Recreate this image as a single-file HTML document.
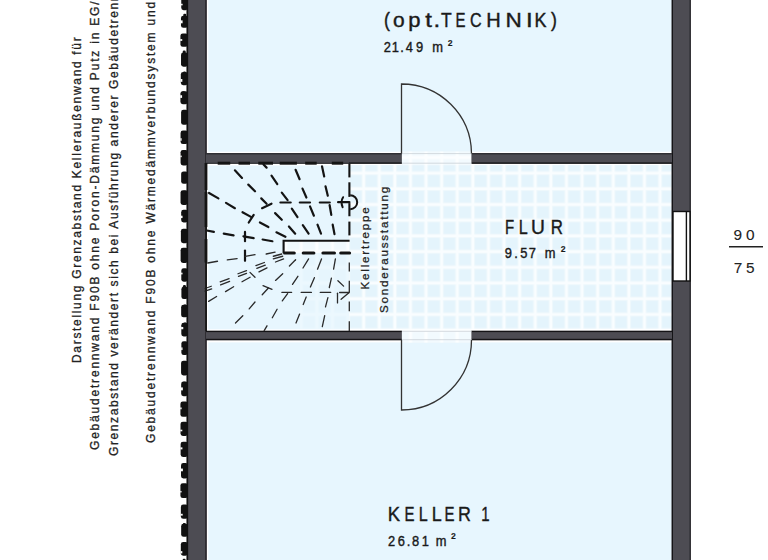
<!DOCTYPE html>
<html><head><meta charset="utf-8">
<style>
html,body{margin:0;padding:0;background:#fff;}
body{width:768px;height:560px;overflow:hidden;position:relative;}
svg{position:absolute;left:0;top:0;}
text{font-family:"Liberation Sans",sans-serif;}
</style></head>
<body>
<svg width="768" height="560" viewBox="0 0 768 560">
<defs>
<pattern id="tile" patternUnits="userSpaceOnUse" x="395" y="173.3" width="15.6" height="15.7">
<rect x="0" y="0" width="15.6" height="15.7" fill="#f9fdff"/>
<rect x="1.2" y="1.2" width="12.9" height="12.9" fill="#ebf7fc"/>
<rect x="2.2" y="2.2" width="10.9" height="10.9" fill="#e4f4fc"/>
</pattern>
</defs>
<rect x="208.3" y="0" width="463.5" height="151.7" fill="#e7f6fe"/>
<rect x="208.3" y="342.4" width="463.5" height="217.6" fill="#e7f6fe"/>
<rect x="208.3" y="165.5" width="141" height="163.8" fill="#e7f6fe"/>
<rect x="349" y="165.1" width="322.7" height="163.9" fill="url(#tile)"/>
<rect x="300" y="253" width="49" height="78" fill="url(#tile)" opacity="0.3"/>
<rect x="284" y="241" width="65" height="12" fill="url(#tile)"/><rect x="284" y="241" width="65" height="12" fill="#fff" opacity="0.45"/>
<rect x="187.8" y="0" width="18.9" height="560" fill="#4d4c53"/><rect x="205" y="0" width="1.7" height="560" fill="#2e2c31"/>
<rect x="671.7" y="0" width="19" height="560" fill="#4d4c53"/><rect x="671.7" y="0" width="1.3" height="560" fill="#151417"/><rect x="689.7" y="0" width="1" height="560" fill="#151417"/>
<rect x="206" y="153" width="466" height="10.75" fill="#4d4c53"/><rect x="206" y="153" width="466" height="1.5" fill="#303035"/><rect x="349" y="162.4" width="323" height="1.35" fill="#151417"/>
<rect x="206" y="330.8" width="466" height="9.4" fill="#4d4c53"/><rect x="206" y="330.8" width="466" height="1.3" fill="#151417"/><rect x="206" y="338.8" width="466" height="1.4" fill="#151417"/>
<rect x="401.9" y="151.7" width="69.4" height="13.4" fill="url(#tile)"/><rect x="401.9" y="151.7" width="69.4" height="13.4" fill="#ffffff" opacity="0.5"/><line x1="402" y1="153.6" x2="471.5" y2="153.6" stroke="#c9d0d6" stroke-width="0.8"/><line x1="402" y1="163.2" x2="471.5" y2="163.2" stroke="#c9d0d6" stroke-width="0.8"/>
<rect x="401.9" y="329" width="69.4" height="13.4" fill="url(#tile)"/><rect x="401.9" y="329" width="69.4" height="13.4" fill="#ffffff" opacity="0.5"/><line x1="402" y1="331.3" x2="471.5" y2="331.3" stroke="#c9d0d6" stroke-width="0.8"/><line x1="402" y1="339.7" x2="471.5" y2="339.7" stroke="#c9d0d6" stroke-width="0.8"/>
<rect x="673" y="211.5" width="17" height="69.5" fill="#fff" stroke="#111" stroke-width="1.4"/>
<line x1="686.4" y1="211.5" x2="686.4" y2="281" stroke="#111" stroke-width="1.4"/>
<path d="M401.5 153.5 V84 A70 70 0 0 1 471.5 153.5" fill="none" stroke="#333" stroke-width="1.3"/>
<path d="M401.5 340 V410 A70 70 0 0 0 471.5 340" fill="none" stroke="#333" stroke-width="1.3"/>
<line x1="187.3" y1="0" x2="187.3" y2="560" stroke="#111" stroke-width="1.7"/>
<rect x="181.25" y="-3.00" width="6.75" height="13.13" rx="2.4" fill="#111"/>
<rect x="181.05" y="3.76" width="1.57" height="1.59" fill="#fff"/>
<rect x="180.97" y="15.65" width="7.03" height="12.13" rx="2.4" fill="#111"/>
<rect x="183.29" y="13.70" width="3" height="4.88" rx="1.2" fill="#111"/>
<rect x="180.77" y="20.37" width="1.83" height="2.92" fill="#fff"/>
<rect x="180.42" y="33.43" width="7.58" height="13.39" rx="2.4" fill="#111"/>
<rect x="182.07" y="36.68" width="3" height="4.78" rx="1.2" fill="#111"/>
<rect x="180.22" y="39.10" width="2.02" height="1.77" fill="#fff"/>
<rect x="181.03" y="52.49" width="6.97" height="14.24" rx="2.4" fill="#111"/>
<rect x="182.73" y="50.43" width="3" height="4.19" rx="1.2" fill="#111"/>
<rect x="180.81" y="72.08" width="7.19" height="13.10" rx="2.4" fill="#111"/>
<rect x="183.01" y="71.54" width="3" height="6.03" rx="1.2" fill="#111"/>
<rect x="180.61" y="79.02" width="1.73" height="2.81" fill="#fff"/>
<rect x="180.42" y="91.14" width="7.58" height="13.01" rx="2.4" fill="#111"/>
<rect x="182.07" y="91.35" width="3" height="5.90" rx="1.2" fill="#111"/>
<rect x="180.22" y="95.24" width="1.87" height="2.65" fill="#fff"/>
<rect x="181.09" y="109.79" width="6.91" height="15.06" rx="2.4" fill="#111"/>
<rect x="180.56" y="130.51" width="7.44" height="13.60" rx="2.4" fill="#111"/>
<rect x="180.36" y="138.20" width="1.26" height="2.55" fill="#fff"/>
<rect x="180.58" y="149.90" width="7.42" height="15.48" rx="2.4" fill="#111"/>
<rect x="182.10" y="150.39" width="3" height="6.50" rx="1.2" fill="#111"/>
<rect x="180.38" y="155.59" width="1.32" height="1.59" fill="#fff"/>
<rect x="181.15" y="171.42" width="6.85" height="12.45" rx="2.4" fill="#111"/>
<rect x="183.10" y="174.34" width="3" height="4.18" rx="1.2" fill="#111"/>
<rect x="180.54" y="190.14" width="7.46" height="14.87" rx="2.4" fill="#111"/>
<rect x="182.92" y="190.72" width="3" height="5.23" rx="1.2" fill="#111"/>
<rect x="181.17" y="209.80" width="6.83" height="12.62" rx="2.4" fill="#111"/>
<rect x="182.93" y="210.36" width="3" height="5.36" rx="1.2" fill="#111"/>
<rect x="180.97" y="215.70" width="1.57" height="2.35" fill="#fff"/>
<rect x="180.88" y="228.83" width="7.12" height="14.42" rx="2.4" fill="#111"/>
<rect x="180.62" y="247.85" width="7.38" height="15.15" rx="2.4" fill="#111"/>
<rect x="181.30" y="268.29" width="6.70" height="13.40" rx="2.4" fill="#111"/>
<rect x="181.10" y="272.67" width="1.41" height="1.74" fill="#fff"/>
<rect x="181.40" y="286.86" width="6.60" height="12.18" rx="2.4" fill="#111"/>
<rect x="182.93" y="284.98" width="3" height="4.76" rx="1.2" fill="#111"/>
<rect x="181.15" y="304.77" width="6.85" height="12.52" rx="2.4" fill="#111"/>
<rect x="183.50" y="304.55" width="3" height="4.28" rx="1.2" fill="#111"/>
<rect x="181.31" y="322.73" width="6.69" height="13.69" rx="2.4" fill="#111"/>
<rect x="183.64" y="322.57" width="3" height="4.75" rx="1.2" fill="#111"/>
<rect x="181.11" y="326.96" width="2.15" height="2.29" fill="#fff"/>
<rect x="181.37" y="341.21" width="6.63" height="13.90" rx="2.4" fill="#111"/>
<rect x="183.57" y="345.51" width="3" height="6.55" rx="1.2" fill="#111"/>
<rect x="181.17" y="347.42" width="1.37" height="2.66" fill="#fff"/>
<rect x="181.07" y="360.68" width="6.93" height="14.73" rx="2.4" fill="#111"/>
<rect x="183.42" y="364.15" width="3" height="7.31" rx="1.2" fill="#111"/>
<rect x="181.17" y="381.54" width="6.83" height="14.59" rx="2.4" fill="#111"/>
<rect x="182.70" y="381.64" width="3" height="4.10" rx="1.2" fill="#111"/>
<rect x="180.97" y="387.43" width="1.89" height="2.93" fill="#fff"/>
<rect x="180.41" y="401.53" width="7.59" height="15.28" rx="2.4" fill="#111"/>
<rect x="180.21" y="407.46" width="1.43" height="1.80" fill="#fff"/>
<rect x="180.50" y="421.71" width="7.50" height="14.18" rx="2.4" fill="#111"/>
<rect x="180.30" y="429.68" width="2.00" height="1.63" fill="#fff"/>
<rect x="180.62" y="441.72" width="7.38" height="15.18" rx="2.4" fill="#111"/>
<rect x="180.42" y="447.36" width="1.99" height="2.00" fill="#fff"/>
<rect x="181.00" y="463.01" width="7.00" height="15.40" rx="2.4" fill="#111"/>
<rect x="182.67" y="467.80" width="3" height="6.68" rx="1.2" fill="#111"/>
<rect x="180.80" y="468.56" width="2.10" height="2.71" fill="#fff"/>
<rect x="180.42" y="483.20" width="7.58" height="14.89" rx="2.4" fill="#111"/>
<rect x="180.22" y="490.94" width="1.33" height="1.52" fill="#fff"/>
<rect x="180.87" y="504.53" width="7.13" height="14.27" rx="2.4" fill="#111"/>
<rect x="180.67" y="513.79" width="2.03" height="1.82" fill="#fff"/>
<rect x="181.16" y="523.81" width="6.84" height="13.03" rx="2.4" fill="#111"/>
<rect x="182.79" y="523.00" width="3" height="5.05" rx="1.2" fill="#111"/>
<rect x="180.82" y="542.04" width="7.18" height="13.60" rx="2.4" fill="#111"/>
<rect x="180.62" y="551.12" width="1.70" height="2.30" fill="#fff"/>
<rect x="180.96" y="561.19" width="7.04" height="12.07" rx="2.4" fill="#111"/>
<rect x="182.63" y="558.72" width="3" height="5.62" rx="1.2" fill="#111"/>
<rect x="180.76" y="568.31" width="1.76" height="1.99" fill="#fff"/>
<line x1="209" y1="193" x2="218.4" y2="198.4" stroke="#141414" stroke-width="2.2" stroke-linecap="round"/>
<line x1="226" y1="202.9" x2="234.9" y2="208.2" stroke="#141414" stroke-width="2.2" stroke-linecap="round"/>
<line x1="242.5" y1="212.2" x2="251.4" y2="217.1" stroke="#141414" stroke-width="2.2" stroke-linecap="round"/>
<line x1="259.9" y1="222.5" x2="268.4" y2="227" stroke="#141414" stroke-width="2.2" stroke-linecap="round"/>
<line x1="276.4" y1="232.3" x2="285.4" y2="236.8" stroke="#141414" stroke-width="2.2" stroke-linecap="round"/>
<line x1="234.9" y1="170.3" x2="242" y2="177.9" stroke="#141414" stroke-width="2.2" stroke-linecap="round"/>
<line x1="248.3" y1="184.6" x2="255" y2="191.25" stroke="#141414" stroke-width="2.2" stroke-linecap="round"/>
<line x1="261.25" y1="198.4" x2="266.6" y2="203.75" stroke="#141414" stroke-width="2.2" stroke-linecap="round"/>
<line x1="275.1" y1="213.1" x2="281.8" y2="219.8" stroke="#141414" stroke-width="2.2" stroke-linecap="round"/>
<line x1="288.9" y1="226.5" x2="295.2" y2="233.7" stroke="#141414" stroke-width="2.2" stroke-linecap="round"/>
<line x1="263.5" y1="164.5" x2="266.6" y2="167.6" stroke="#141414" stroke-width="2.2" stroke-linecap="round"/>
<line x1="271.5" y1="175.6" x2="277.3" y2="184.1" stroke="#141414" stroke-width="2.2" stroke-linecap="round"/>
<line x1="281.8" y1="192.6" x2="287.6" y2="200.2" stroke="#141414" stroke-width="2.2" stroke-linecap="round"/>
<line x1="291.8" y1="208.6" x2="297.5" y2="217.1" stroke="#141414" stroke-width="2.2" stroke-linecap="round"/>
<line x1="302.8" y1="225.2" x2="308.6" y2="233.7" stroke="#141414" stroke-width="2.2" stroke-linecap="round"/>
<line x1="206.8" y1="230.5" x2="213.9" y2="231.9" stroke="#141414" stroke-width="2.2" stroke-linecap="round"/>
<line x1="223.75" y1="233.7" x2="233.6" y2="235.4" stroke="#141414" stroke-width="2.2" stroke-linecap="round"/>
<line x1="243.4" y1="236.3" x2="253.7" y2="238.1" stroke="#141414" stroke-width="2.2" stroke-linecap="round"/>
<line x1="262.6" y1="239.5" x2="272.4" y2="241.25" stroke="#141414" stroke-width="2.2" stroke-linecap="round"/>
<line x1="295.6" y1="169.8" x2="299.6" y2="179.2" stroke="#141414" stroke-width="2.2" stroke-linecap="round"/>
<line x1="302.5" y1="188.6" x2="306.4" y2="197.5" stroke="#141414" stroke-width="2.2" stroke-linecap="round"/>
<line x1="310" y1="206.4" x2="313.9" y2="215.7" stroke="#141414" stroke-width="2.2" stroke-linecap="round"/>
<line x1="317.5" y1="224.7" x2="321" y2="233.7" stroke="#141414" stroke-width="2.2" stroke-linecap="round"/>
<line x1="322" y1="166.25" x2="324.2" y2="176.5" stroke="#141414" stroke-width="2.2" stroke-linecap="round"/>
<line x1="325.5" y1="186.3" x2="327.8" y2="195.7" stroke="#141414" stroke-width="2.2" stroke-linecap="round"/>
<line x1="329.6" y1="205" x2="331.3" y2="214.9" stroke="#141414" stroke-width="2.2" stroke-linecap="round"/>
<line x1="332.7" y1="224.7" x2="334.5" y2="234.1" stroke="#141414" stroke-width="2.2" stroke-linecap="round"/>
<line x1="280.4" y1="202.5" x2="290.7" y2="202.5" stroke="#141414" stroke-width="2.2" stroke-linecap="round"/>
<line x1="299.8" y1="202.5" x2="310" y2="202.5" stroke="#141414" stroke-width="2.2" stroke-linecap="round"/>
<line x1="319.8" y1="202.5" x2="329.8" y2="202.5" stroke="#141414" stroke-width="2.2" stroke-linecap="round"/>
<line x1="338.1" y1="202.2" x2="349.4" y2="202.2" stroke="#141414" stroke-width="2.2" stroke-linecap="round"/>
<line x1="262.1" y1="208.2" x2="271.5" y2="203.75" stroke="#141414" stroke-width="2.2" stroke-linecap="round"/>
<line x1="248.75" y1="222.5" x2="253.7" y2="214.9" stroke="#141414" stroke-width="2.2" stroke-linecap="round"/>
<line x1="245" y1="231.9" x2="245" y2="241.25" stroke="#141414" stroke-width="2.2" stroke-linecap="round"/>
<line x1="245" y1="250.6" x2="245" y2="260.8" stroke="#141414" stroke-width="2.2" stroke-linecap="round"/>
<line x1="207.7" y1="263" x2="217.5" y2="261.25" stroke="#2a2a2a" stroke-width="1.3" stroke-linecap="round"/>
<line x1="227.3" y1="259.9" x2="237.1" y2="258.6" stroke="#2a2a2a" stroke-width="1.3" stroke-linecap="round"/>
<line x1="245.2" y1="256.4" x2="255" y2="254.6" stroke="#2a2a2a" stroke-width="1.3" stroke-linecap="round"/>
<line x1="266.2" y1="254" x2="275.1" y2="252.2" stroke="#2a2a2a" stroke-width="1.3" stroke-linecap="round"/>
<line x1="208.6" y1="301.4" x2="216.6" y2="296.5" stroke="#2a2a2a" stroke-width="1.3" stroke-linecap="round"/>
<line x1="225.5" y1="291.6" x2="233.6" y2="286.7" stroke="#2a2a2a" stroke-width="1.3" stroke-linecap="round"/>
<line x1="242" y1="281.8" x2="250.1" y2="277.3" stroke="#2a2a2a" stroke-width="1.3" stroke-linecap="round"/>
<line x1="259" y1="271.9" x2="267" y2="267.9" stroke="#2a2a2a" stroke-width="1.3" stroke-linecap="round"/>
<line x1="275.5" y1="262" x2="283.6" y2="258.9" stroke="#2a2a2a" stroke-width="1.3" stroke-linecap="round"/>
<line x1="205" y1="288.5" x2="211.25" y2="286.25" stroke="#2a2a2a" stroke-width="1.3" stroke-linecap="round"/>
<line x1="220.2" y1="281.8" x2="229.1" y2="278.7" stroke="#2a2a2a" stroke-width="1.3" stroke-linecap="round"/>
<line x1="238" y1="273.75" x2="246.5" y2="270.6" stroke="#2a2a2a" stroke-width="1.3" stroke-linecap="round"/>
<line x1="255.9" y1="265.6" x2="264.4" y2="262.5" stroke="#2a2a2a" stroke-width="1.3" stroke-linecap="round"/>
<line x1="273.3" y1="256.25" x2="281.8" y2="254" stroke="#2a2a2a" stroke-width="1.3" stroke-linecap="round"/>
<line x1="205" y1="291.2" x2="211.7" y2="288.9" stroke="#2a2a2a" stroke-width="1.3" stroke-linecap="round"/>
<line x1="220.6" y1="284.9" x2="229.6" y2="281.3" stroke="#2a2a2a" stroke-width="1.3" stroke-linecap="round"/>
<line x1="238.5" y1="276.4" x2="246.5" y2="273.3" stroke="#2a2a2a" stroke-width="1.3" stroke-linecap="round"/>
<line x1="256.8" y1="268.3" x2="265.3" y2="265.2" stroke="#2a2a2a" stroke-width="1.3" stroke-linecap="round"/>
<line x1="273.3" y1="258.9" x2="282.7" y2="256.25" stroke="#2a2a2a" stroke-width="1.3" stroke-linecap="round"/>
<line x1="235.5" y1="323" x2="242.8" y2="315.7" stroke="#2a2a2a" stroke-width="1.3" stroke-linecap="round"/>
<line x1="249.2" y1="308.9" x2="255" y2="302" stroke="#2a2a2a" stroke-width="1.3" stroke-linecap="round"/>
<line x1="262.2" y1="294.8" x2="268.4" y2="288" stroke="#2a2a2a" stroke-width="1.3" stroke-linecap="round"/>
<line x1="275.5" y1="280.4" x2="282.7" y2="273.7" stroke="#2a2a2a" stroke-width="1.3" stroke-linecap="round"/>
<line x1="289.4" y1="266" x2="295.6" y2="259.8" stroke="#2a2a2a" stroke-width="1.3" stroke-linecap="round"/>
<line x1="264.2" y1="330.6" x2="267" y2="325.8" stroke="#2a2a2a" stroke-width="1.3" stroke-linecap="round"/>
<line x1="272.3" y1="317.7" x2="277.1" y2="309.3" stroke="#2a2a2a" stroke-width="1.3" stroke-linecap="round"/>
<line x1="282.3" y1="300.9" x2="287.6" y2="293.6" stroke="#2a2a2a" stroke-width="1.3" stroke-linecap="round"/>
<line x1="292.5" y1="284.4" x2="297.9" y2="276.3" stroke="#2a2a2a" stroke-width="1.3" stroke-linecap="round"/>
<line x1="303" y1="268" x2="308.6" y2="258.9" stroke="#2a2a2a" stroke-width="1.3" stroke-linecap="round"/>
<line x1="296" y1="323" x2="299.6" y2="314.1" stroke="#2a2a2a" stroke-width="1.3" stroke-linecap="round"/>
<line x1="303.2" y1="304.5" x2="306.2" y2="297" stroke="#2a2a2a" stroke-width="1.3" stroke-linecap="round"/>
<line x1="310.4" y1="287" x2="314.4" y2="277.7" stroke="#2a2a2a" stroke-width="1.3" stroke-linecap="round"/>
<line x1="317.5" y1="269.2" x2="321.5" y2="258.9" stroke="#2a2a2a" stroke-width="1.3" stroke-linecap="round"/>
<line x1="322.3" y1="326.6" x2="324.7" y2="315.7" stroke="#2a2a2a" stroke-width="1.3" stroke-linecap="round"/>
<line x1="325.5" y1="306.9" x2="327.9" y2="297.6" stroke="#2a2a2a" stroke-width="1.3" stroke-linecap="round"/>
<line x1="329.3" y1="287.5" x2="331.4" y2="278.2" stroke="#2a2a2a" stroke-width="1.3" stroke-linecap="round"/>
<line x1="333.6" y1="269.2" x2="335.4" y2="258.9" stroke="#2a2a2a" stroke-width="1.3" stroke-linecap="round"/>
<line x1="281.9" y1="292.4" x2="291.6" y2="292.4" stroke="#2a2a2a" stroke-width="1.3" stroke-linecap="round"/>
<line x1="301.2" y1="292.4" x2="311.4" y2="292.4" stroke="#2a2a2a" stroke-width="1.3" stroke-linecap="round"/>
<line x1="320.3" y1="292.4" x2="330.7" y2="292.4" stroke="#2a2a2a" stroke-width="1.3" stroke-linecap="round"/>
<line x1="339.6" y1="292.5" x2="349.3" y2="292.5" stroke="#2a2a2a" stroke-width="1.3" stroke-linecap="round"/>
<line x1="250" y1="272.4" x2="255" y2="277.3" stroke="#2a2a2a" stroke-width="1.3" stroke-linecap="round"/>
<line x1="263" y1="285.7" x2="272" y2="289.3" stroke="#2a2a2a" stroke-width="1.3" stroke-linecap="round"/>
<line x1="337.9" y1="280.7" x2="343.6" y2="286.1" stroke="#2a2a2a" stroke-width="1.3" stroke-linecap="round"/>
<line x1="341.1" y1="299.3" x2="348.6" y2="292.9" stroke="#2a2a2a" stroke-width="1.3" stroke-linecap="round"/>
<line x1="337.5" y1="293.2" x2="337.5" y2="302.9" stroke="#2a2a2a" stroke-width="1.3" stroke-linecap="round"/>
<line x1="205.5" y1="163.2" x2="349.5" y2="163.2" stroke="#2a2a2e" stroke-width="1.1"/>
<line x1="217.7" y1="163.2" x2="230.2" y2="163.2" stroke="#141414" stroke-width="3"/>
<line x1="238.5" y1="163.2" x2="250" y2="163.2" stroke="#141414" stroke-width="3"/>
<line x1="258.3" y1="163.2" x2="273" y2="163.2" stroke="#141414" stroke-width="3"/>
<line x1="279.7" y1="163.2" x2="296.9" y2="163.2" stroke="#141414" stroke-width="3"/>
<line x1="305.2" y1="163.2" x2="316.7" y2="163.2" stroke="#141414" stroke-width="3"/>
<line x1="331.8" y1="163.2" x2="343.2" y2="163.2" stroke="#141414" stroke-width="3"/>
<line x1="206.1" y1="163" x2="206.1" y2="331" stroke="#1a1a1a" stroke-width="1.8"/>
<line x1="206" y1="163" x2="206" y2="190" stroke="#141414" stroke-width="2.8"/>
<line x1="206" y1="192" x2="206" y2="227" stroke="#141414" stroke-width="2.8"/>
<line x1="206" y1="239" x2="206" y2="262.5" stroke="#141414" stroke-width="2.8"/>
<line x1="349.4" y1="163.5" x2="349.4" y2="177.4" stroke="#141414" stroke-width="2.1"/>
<line x1="349.4" y1="182.3" x2="349.4" y2="196.9" stroke="#141414" stroke-width="2.1"/>
<line x1="349.4" y1="203.1" x2="349.4" y2="216.25" stroke="#141414" stroke-width="2.1"/>
<line x1="349.4" y1="221.6" x2="349.4" y2="235.4" stroke="#141414" stroke-width="2.1"/>
<line x1="349.3" y1="262.5" x2="349.3" y2="271.4" stroke="#2a2a2a" stroke-width="1.3"/>
<line x1="349.3" y1="280.7" x2="349.3" y2="292.1" stroke="#2a2a2a" stroke-width="1.3"/>
<line x1="349.3" y1="301.4" x2="349.3" y2="311.3" stroke="#2a2a2a" stroke-width="1.3"/>
<line x1="349.3" y1="321.3" x2="349.3" y2="331" stroke="#2a2a2a" stroke-width="1.3"/>
<path d="M350.2 195.2 A7 7 0 0 1 350.2 209.2" fill="none" stroke="#141414" stroke-width="2"/>
<path d="M343.1 197.2 Q340.3 201.5 342.6 207.2" fill="none" stroke="#141414" stroke-width="2" stroke-linecap="round"/>
<path d="M349.6 240.8 H283.6 V252.9" fill="none" stroke="#141414" stroke-width="2.1"/>
<line x1="284.5" y1="252.9" x2="294.3" y2="252.9" stroke="#141414" stroke-width="3" stroke-linecap="round"/>
<line x1="303.2" y1="252.9" x2="313.9" y2="252.9" stroke="#141414" stroke-width="3" stroke-linecap="round"/>
<line x1="322.9" y1="252.9" x2="334.5" y2="252.9" stroke="#141414" stroke-width="3" stroke-linecap="round"/>
<line x1="340.7" y1="252.9" x2="349.6" y2="252.9" stroke="#141414" stroke-width="3" stroke-linecap="round"/>
<text transform="translate(387.40 26.6) scale(0.886 1)" x="-3.89" y="0" font-size="20" fill="#1a1a1a" stroke="#1a1a1a" stroke-width="0.4">(</text><text transform="translate(398.80 26.6) scale(1.048 1)" x="-5.56" y="0" font-size="20" fill="#1a1a1a" stroke="#1a1a1a" stroke-width="0.4">o</text><text transform="translate(414.70 26.6) scale(1.101 1)" x="-5.79" y="0" font-size="20" fill="#1a1a1a" stroke="#1a1a1a" stroke-width="0.4">p</text><text transform="translate(428.60 26.6) scale(1.200 1)" x="-2.86" y="0" font-size="20" fill="#1a1a1a" stroke="#1a1a1a" stroke-width="0.4">t</text><text transform="translate(436.75 26.6) scale(1.200 1)" x="-2.78" y="0" font-size="20" fill="#1a1a1a" stroke="#1a1a1a" stroke-width="0.4">.</text><text transform="translate(446.40 26.6) scale(0.875 1)" x="-6.10" y="0" font-size="20" fill="#1a1a1a" stroke="#1a1a1a" stroke-width="0.4">T</text><text transform="translate(460.90 26.6) scale(0.750 1)" x="-7.06" y="0" font-size="20" fill="#1a1a1a" stroke="#1a1a1a" stroke-width="0.4">E</text><text transform="translate(475.85 26.6) scale(0.805 1)" x="-7.35" y="0" font-size="20" fill="#1a1a1a" stroke="#1a1a1a" stroke-width="0.4">C</text><text transform="translate(493.45 26.6) scale(1.003 1)" x="-7.23" y="0" font-size="20" fill="#1a1a1a" stroke="#1a1a1a" stroke-width="0.4">H</text><text transform="translate(513.65 26.6) scale(1.128 1)" x="-7.23" y="0" font-size="20" fill="#1a1a1a" stroke="#1a1a1a" stroke-width="0.4">N</text><text transform="translate(529.45 26.6) scale(1.200 1)" x="-2.78" y="0" font-size="20" fill="#1a1a1a" stroke="#1a1a1a" stroke-width="0.4">I</text><text transform="translate(541.00 26.6) scale(0.898 1)" x="-7.38" y="0" font-size="20" fill="#1a1a1a" stroke="#1a1a1a" stroke-width="0.4">K</text><text transform="translate(553.50 26.6) scale(0.886 1)" x="-2.77" y="0" font-size="20" fill="#1a1a1a" stroke="#1a1a1a" stroke-width="0.4">)</text>
<text transform="scale(0.92 1)" x="417.14 425.81 435.01 440.93 452.2 469.71 487.01" y="52.1 52.1 52.1 52.1 52.1 52.1 49.7" font-size="14" fill="#1a1a1a" stroke="#1a1a1a" stroke-width="0.4">21.49m²</text>
<text transform="translate(509.80 233.5) scale(0.750 1)" x="-6.53" y="0" font-size="20" fill="#1a1a1a" stroke="#1a1a1a" stroke-width="0.4">F</text><text transform="translate(523.70 233.5) scale(0.805 1)" x="-6.05" y="0" font-size="20" fill="#1a1a1a" stroke="#1a1a1a" stroke-width="0.4">L</text><text transform="translate(537.90 233.5) scale(0.960 1)" x="-7.22" y="0" font-size="20" fill="#1a1a1a" stroke="#1a1a1a" stroke-width="0.4">U</text><text transform="translate(557.05 233.5) scale(0.842 1)" x="-7.58" y="0" font-size="20" fill="#1a1a1a" stroke="#1a1a1a" stroke-width="0.4">R</text>
<text transform="scale(0.92 1)" x="548.77 559.09 565.58 574.8 592.15 609.78" y="258.3 258.3 258.3 258.3 258.3 255.9" font-size="14" fill="#1a1a1a" stroke="#1a1a1a" stroke-width="0.4">9.57m²</text>
<text transform="translate(394.45 520.9) scale(0.924 1)" x="-7.38" y="0" font-size="20" fill="#1a1a1a" stroke="#1a1a1a" stroke-width="0.4">K</text><text transform="translate(409.75 520.9) scale(0.750 1)" x="-7.06" y="0" font-size="20" fill="#1a1a1a" stroke="#1a1a1a" stroke-width="0.4">E</text><text transform="translate(423.50 520.9) scale(0.805 1)" x="-6.05" y="0" font-size="20" fill="#1a1a1a" stroke="#1a1a1a" stroke-width="0.4">L</text><text transform="translate(437.20 520.9) scale(0.896 1)" x="-6.05" y="0" font-size="20" fill="#1a1a1a" stroke="#1a1a1a" stroke-width="0.4">L</text><text transform="translate(449.70 520.9) scale(0.750 1)" x="-7.06" y="0" font-size="20" fill="#1a1a1a" stroke="#1a1a1a" stroke-width="0.4">E</text><text transform="translate(464.85 520.9) scale(0.893 1)" x="-7.58" y="0" font-size="20" fill="#1a1a1a" stroke="#1a1a1a" stroke-width="0.4">R</text><text transform="translate(485.50 520.9) scale(0.750 1)" x="-5.83" y="0" font-size="20" fill="#1a1a1a" stroke="#1a1a1a" stroke-width="0.4">1</text>
<text transform="scale(0.92 1)" x="421.7 432.42 442.02 447.74 458.33 473.79 490.38" y="545.6 545.6 545.6 545.6 545.6 545.6 543.2" font-size="14" fill="#1a1a1a" stroke="#1a1a1a" stroke-width="0.4">26.81m²</text>
<text x="733.47 745.97" y="240 240" font-size="15.4" fill="#222" stroke="#222" stroke-width="0.1">90</text>
<text x="733.71 745.98" y="272.5 272.5" font-size="15.4" fill="#222" stroke="#222" stroke-width="0.1">75</text>
<line x1="729" y1="246.75" x2="763" y2="246.75" stroke="#222" stroke-width="1.5"/>
<text transform="translate(80.5,363) rotate(-90)" font-size="12" letter-spacing="1.68" fill="#222" stroke="#222" stroke-width="0.3">Darstellung Grenzabstand Kelleraußenwand für</text>
<text transform="translate(99.4,450) rotate(-90)" font-size="12" letter-spacing="1.8" fill="#222" stroke="#222" stroke-width="0.3">Gebäudetrennwand F90B ohne Poron-Dämmung und Putz in EG/OG</text>
<text transform="translate(118,456) rotate(-90)" font-size="12" letter-spacing="1.6" fill="#222" stroke="#222" stroke-width="0.3">Grenzabstand verändert sich bei Ausführung anderer Gebäudetrennwände</text>
<text transform="translate(155.3,443) rotate(-90)" font-size="12" letter-spacing="1.8" fill="#222" stroke="#222" stroke-width="0.3">Gebäudetrennwand F90B ohne Wärmedämmverbundsystem und Putz</text>
<text transform="translate(368.5,289.5) rotate(-90)" font-size="11.6" letter-spacing="1.8" fill="#222" stroke="#222" stroke-width="0.25">Kellertreppe</text>
<text transform="translate(387.7,313) rotate(-90)" font-size="11.6" letter-spacing="1.8" fill="#222" stroke="#222" stroke-width="0.25">Sonderausstattung</text>
</svg>
</body></html>
